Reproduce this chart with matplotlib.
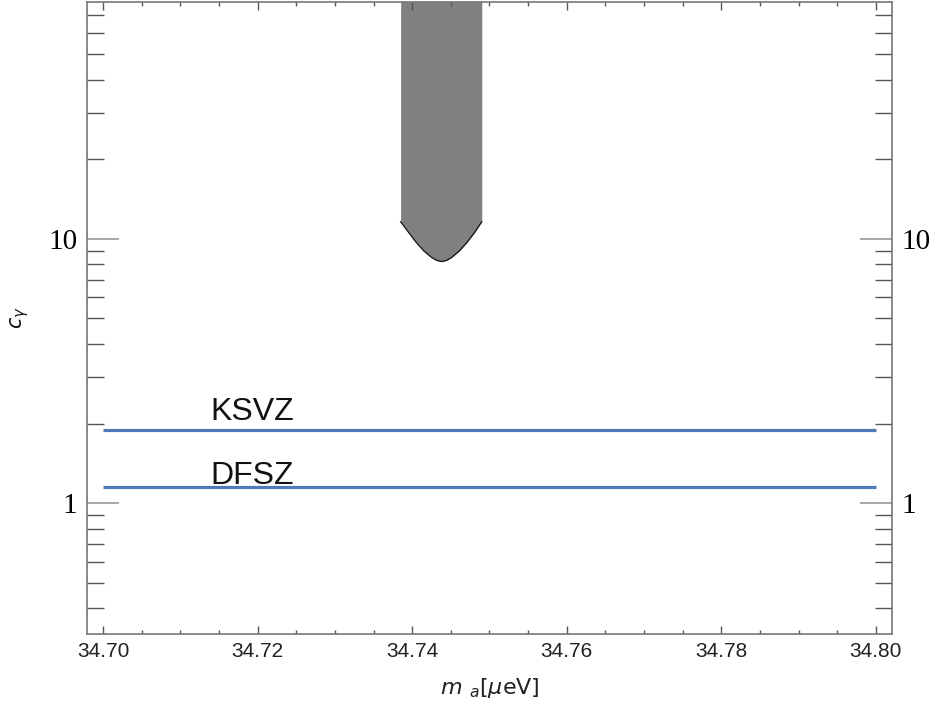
import matplotlib
matplotlib.use("Agg")
import matplotlib.pyplot as plt
from matplotlib.ticker import FixedLocator, MultipleLocator, NullFormatter, LogLocator

# ── data ──────────────────────────────────────────────────────────────────
x_range = [34.70, 34.80]
ksvz = 1.894
dfsz = 1.15

# lower edge of the excluded (gray) region
excl_x = [34.7385, 34.7395, 34.7405, 34.7415, 34.7425, 34.7432, 34.7438,
          34.7444, 34.7451, 34.7461, 34.7471, 34.7481, 34.7490]
excl_y = [11.6, 10.6, 9.7, 9.0, 8.5, 8.28, 8.2, 8.28, 8.5, 9.0, 9.7, 10.6, 11.6]

ylim = (0.32, 79)
xlim = (34.6979, 34.8021)
xticks = [34.70, 34.72, 34.74, 34.76, 34.78, 34.80]
yticks = [1, 10]

LINE = "#4e7ab8"
SPINE = "#777777"
TICK = "#555555"

plt.rcParams["mathtext.fontset"] = "dejavusans"

fig = plt.figure(figsize=(9.36, 7.06), dpi=100)
ax = fig.add_axes([87 / 936, 72 / 706, 805 / 936, 632.5 / 706])
ax.set_yscale("log")

ax.fill_between(excl_x, excl_y, [ylim[1] * 2] * len(excl_x),
                color="#808080", linewidth=0, zorder=1)
ax.plot(excl_x, excl_y, color="#111111", linewidth=0.9, zorder=2)

ax.plot(x_range, [ksvz, ksvz], color=LINE, linewidth=2.3, solid_capstyle="butt", zorder=3)
ax.plot(x_range, [dfsz, dfsz], color=LINE, linewidth=2.3, solid_capstyle="butt", zorder=3)

ax.text(34.7139, 2.07, "KSVZ", fontsize=23, family="Liberation Sans",
        ha="left", va="baseline", color="#111111")
ax.text(34.7139, 1.18, "DFSZ", fontsize=23, family="Liberation Sans",
        ha="left", va="baseline", color="#111111")

ax.set_xlim(*xlim)
ax.set_ylim(*ylim)

ax.xaxis.set_major_locator(FixedLocator(xticks))
ax.xaxis.set_minor_locator(MultipleLocator(0.005))
ax.set_xticklabels([f"{t:.2f}" for t in xticks], family="Liberation Sans", fontsize=15,
                   color="#222222")

ax.yaxis.set_major_locator(FixedLocator(yticks))
ax.yaxis.set_minor_locator(LogLocator(base=10, subs=[2, 3, 4, 5, 6, 7, 8, 9]))
ax.yaxis.set_minor_formatter(NullFormatter())
ax.set_yticklabels([str(t) for t in yticks], family="Liberation Serif", fontsize=21)

ax.tick_params(axis="x", which="major", direction="in", length=5.5, width=1,
               color=TICK, top=True, pad=6)
ax.tick_params(axis="x", which="minor", direction="in", length=3.1, width=1,
               color=TICK, top=True)
ax.tick_params(axis="y", which="major", direction="in", length=23, width=1.2,
               color="#999999", right=True, labelright=True, pad=7)
ax.tick_params(axis="y", which="minor", direction="in", length=12.5, width=1,
               color=TICK, right=True)

for s in ax.spines.values():
    s.set_color(SPINE)
    s.set_linewidth(1.2)

ax.set_xlabel(r"$m\ _{a}[\mu\mathrm{eV}]$", fontsize=16, color="#222222")
ax.xaxis.set_label_coords(0.5, -0.066)
ax.set_ylabel(r"$c_{\gamma}$", fontsize=15, color="#111111")
ax.yaxis.set_label_coords(-0.07, 0.5)

fig.savefig("out.png", dpi=100)
